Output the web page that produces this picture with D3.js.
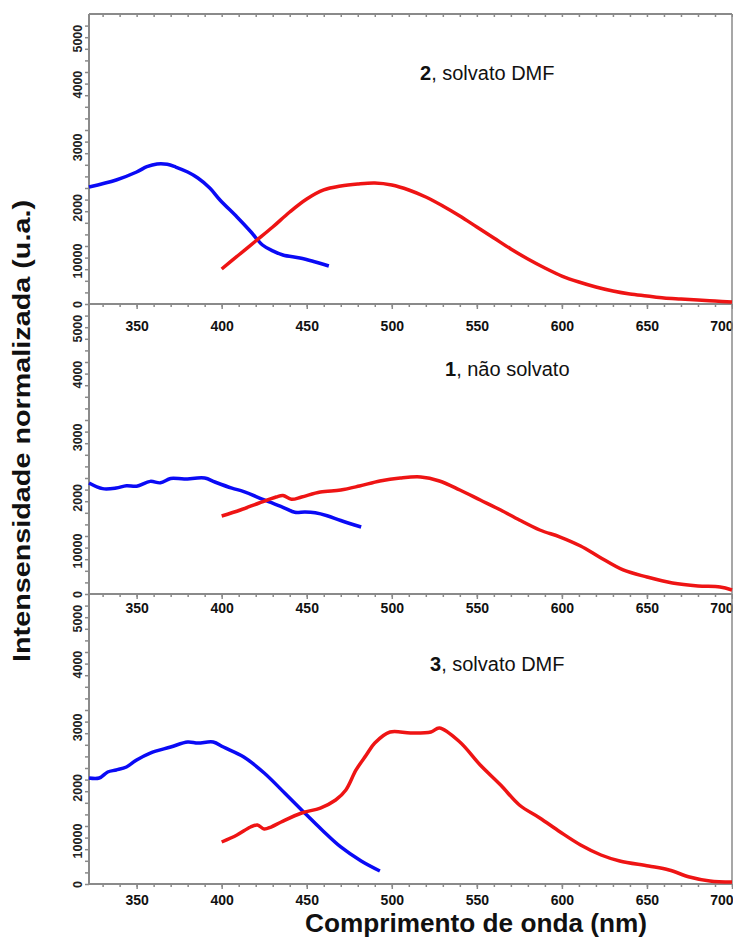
<!DOCTYPE html>
<html>
<head>
<meta charset="utf-8">
<script src="https://cdn.jsdelivr.net/npm/d3@7"></script>
<style>
	body { margin: 0; background: #fff; }
	svg { display: block; font-family: "Liberation Sans", Arial, sans-serif; }
</style>
</head>
<body>
<div id="chart"></div>
<script>
// wavelength ticks (nm)
var xMajorTicks = [350, 400, 450, 500, 550, 600, 650, 700];
// the y labels in the figure are not evenly spaced, keep them as printed
var yTickValues = [0, 900, 2000, 3250, 4550, 5500];
var yTickLabels = ["0", "10000", "2000", "3000", "4000", "5000"];

var panelTitles = [
	{num: "2", rest: ", solvato DMF"},
	{num: "1", rest: ", não solvato"},
	{num: "3", rest: ", solvato DMF"}
];

// [nm, intensity]
var blue2 = [[322, 2421], [338, 2566], [350, 2731], [356, 2840], [362, 2897], [368, 2890], [373, 2834],
	[380, 2730], [386, 2607], [393, 2400], [399, 2152], [409, 1800], [417, 1500], [424, 1221],
	[430, 1100], [436, 1014], [446, 952], [454, 880], [463, 786]];
var red2 = [[400, 724], [410, 1014], [420, 1303], [430, 1593], [440, 1903], [450, 2172], [460, 2359],
	[470, 2441], [480, 2483], [490, 2503], [500, 2462], [510, 2359], [520, 2214], [530, 2028],
	[540, 1821], [550, 1593], [560, 1366], [570, 1138], [580, 931], [590, 745], [600, 579],
	[610, 455], [620, 352], [630, 269], [640, 207], [650, 166], [660, 124], [670, 103],
	[680, 83], [690, 62], [700, 41]];

var blue1 = [[322, 2297], [330, 2180], [338, 2193], [344, 2240], [350, 2230], [358, 2330], [364, 2300],
	[370, 2390], [378, 2379], [390, 2400], [396, 2317], [406, 2190], [413, 2120], [425, 1945],
	[437, 1779], [443, 1690], [449, 1697], [455, 1680], [462, 1620], [470, 1520], [482, 1386]];
var red1 = [[400, 1614], [411, 1738], [422, 1883], [432, 2007], [436, 2040], [441, 1960], [447, 2007],
	[458, 2110], [470, 2152], [481, 2234], [493, 2338], [505, 2400], [517, 2421], [528, 2338],
	[540, 2152], [552, 1945], [564, 1738], [575, 1531], [587, 1324], [599, 1179], [611, 993],
	[622, 766], [636, 497], [650, 352], [665, 228], [680, 166], [693, 145], [700, 83]];

var blue3 = [[322, 2193], [328, 2193], [333, 2317], [338, 2359], [344, 2421], [350, 2566], [358, 2710],
	[370, 2834], [380, 2938], [386, 2917], [395, 2938], [401, 2834], [413, 2628], [425, 2297],
	[437, 1883], [447, 1531], [459, 1117], [470, 766], [482, 476], [493, 269]];
var red3 = [[400, 869], [409, 1014], [417, 1179], [421, 1221], [425, 1138], [429, 1179], [435, 1283],
	[447, 1469], [458, 1572], [467, 1738], [473, 1945], [479, 2359], [485, 2669], [490, 2917],
	[499, 3145], [511, 3124], [523, 3145], [528, 3228], [540, 2938], [552, 2462], [564, 2048],
	[575, 1634], [587, 1366], [599, 1076], [611, 807], [623, 600], [634, 476], [651, 372],
	[663, 290], [675, 145], [687, 62], [700, 41]];

var panels = [
	{blue: blue2, red: red2, top: 14, labelDy: 14, title: [420, 80]},
	{blue: blue1, red: red1, top: 304, labelDy: 6, title: [445, 376]},
	{blue: blue3, red: red3, top: 594, labelDy: 8, title: [430, 671]}
];

var width = 733, height = 943,
	left = 89, right = 732, panelHeight = 290,
	axisColor = "#8a8a8a";

var svg = d3.select("#chart").append("svg")
	.attr("width", width)
	.attr("height", height);

var x = d3.scaleLinear().domain([322, 700]).range([left, right]);

panels.forEach(function(panel, index) {
	var bottom = panel.top + panelHeight;
	var y = d3.scaleLinear().domain([0, 6000]).range([bottom, panel.top]);
	var g = svg.append("g");

	// minor x ticks
	g.append("g")
		.attr("transform", "translate(0," + bottom + ")")
		.call(d3.axisBottom(x).tickValues(d3.range(330, 701, 10)).tickSize(3).tickFormat(""))
		.call(function(a) { a.select(".domain").remove(); })
		.selectAll("line").attr("stroke", axisColor).attr("stroke-width", 1.5);

	// major x ticks + labels
	var xAxis = g.append("g")
		.attr("transform", "translate(0," + bottom + ")")
		.call(d3.axisBottom(x).tickValues(xMajorTicks).tickSize(5).tickPadding(panel.labelDy - 2));
	xAxis.select(".domain").remove();
	xAxis.selectAll("line").attr("stroke", axisColor).attr("stroke-width", 1.5);
	xAxis.selectAll("text")
		.attr("font-size", 14)
		.attr("font-weight", "bold")
		.attr("font-family", "Liberation Sans, Arial, sans-serif")
		.attr("fill", "#111")
		.filter(function(d) { return d === 700; })
		.attr("text-anchor", "end")
		.attr("x", 1);

	if (index === 0) {
		g.append("g")
			.attr("transform", "translate(0," + panel.top + ")")
			.call(d3.axisBottom(x).tickValues(d3.range(330, 701, 10)).tickSize(3).tickFormat(""))
			.call(function(a) { a.select(".domain").remove(); })
			.selectAll("line").attr("stroke", axisColor).attr("stroke-width", 1.5);
	}

	// minor y ticks
	g.append("g")
		.attr("transform", "translate(" + left + ",0)")
		.call(d3.axisLeft(y).tickValues(d3.range(0, 6000, 240)).tickSize(4).tickFormat(""))
		.call(function(a) { a.select(".domain").remove(); })
		.selectAll("line").attr("stroke", axisColor).attr("stroke-width", 1.5);

	// y labels, rotated
	var yAxis = g.append("g")
		.attr("transform", "translate(" + left + ",0)")
		.call(d3.axisLeft(y).tickValues(yTickValues).tickSize(0).tickFormat(function(d, i) { return yTickLabels[i]; }));
	yAxis.select(".domain").remove();
	yAxis.selectAll("text")
		.attr("x", null)
		.attr("dy", null)
		.attr("transform", "translate(-7,0) rotate(-90)")
		.attr("text-anchor", "middle")
		.attr("font-size", 12.5)
		.attr("font-weight", "bold")
		.attr("font-family", "Liberation Sans, Arial, sans-serif")
		.attr("fill", "#222");

	// frame lines
	g.append("line")
		.attr("x1", left).attr("x2", right)
		.attr("y1", bottom).attr("y2", bottom)
		.attr("stroke", axisColor).attr("stroke-width", 2);
	if (index === 0) {
		g.append("line")
			.attr("x1", left).attr("x2", right)
			.attr("y1", panel.top).attr("y2", panel.top)
			.attr("stroke", axisColor).attr("stroke-width", 2);
	}
	g.append("line")
		.attr("x1", left).attr("x2", left)
		.attr("y1", panel.top).attr("y2", bottom)
		.attr("stroke", axisColor).attr("stroke-width", 2);
	g.append("line")
		.attr("x1", right).attr("x2", right)
		.attr("y1", panel.top).attr("y2", bottom)
		.attr("stroke", axisColor).attr("stroke-width", 1.5);

	var line = d3.line()
		.x(function(d) { return x(d[0]); })
		.y(function(d) { return y(d[1]); })
		.curve(d3.curveCatmullRom);

	g.append("path")
		.datum(panel.blue)
		.attr("d", line)
		.attr("fill", "none")
		.attr("stroke", "#0a0af5")
		.attr("stroke-width", 3.5)
		.attr("stroke-linejoin", "round");

	g.append("path")
		.datum(panel.red)
		.attr("d", line)
		.attr("fill", "none")
		.attr("stroke", "#ee1414")
		.attr("stroke-width", 3.5)
		.attr("stroke-linejoin", "round");

	var t = g.append("text")
		.attr("x", panel.title[0])
		.attr("y", panel.title[1])
		.attr("font-size", 20)
		.attr("fill", "#111");
	t.append("tspan").attr("font-weight", "bold").text(panelTitles[index].num);
	t.append("tspan").text(panelTitles[index].rest);
});

svg.append("text")
	.attr("transform", "translate(30,431) rotate(-90)")
	.attr("text-anchor", "middle")
	.attr("font-size", 24)
	.attr("font-weight", "bold")
	.attr("font-family", "Liberation Sans Narrow, Arial Narrow, Liberation Sans, sans-serif")
	.attr("textLength", 462)
	.attr("lengthAdjust", "spacingAndGlyphs")
	.attr("fill", "#111")
	.text("Intensensidade normalizada (u.a.)");

svg.append("text")
	.attr("x", 476)
	.attr("y", 932)
	.attr("text-anchor", "middle")
	.attr("font-size", 25)
	.attr("font-weight", "bold")
	.attr("textLength", 342)
	.attr("lengthAdjust", "spacingAndGlyphs")
	.attr("fill", "#111")
	.text("Comprimento de onda (nm)");
</script>
</body>
</html>
